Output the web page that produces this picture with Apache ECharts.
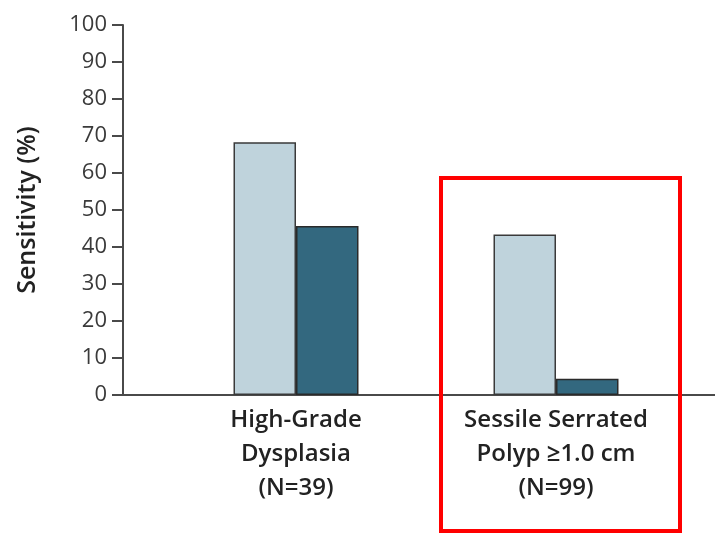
<!DOCTYPE html>
<html>
<head>
<meta charset="utf-8">
<script src="https://cdn.jsdelivr.net/npm/echarts@6/dist/echarts.min.js"></script>
<style>
  html, body { margin: 0; padding: 0; background: #fff; }
  #chart { width: 715px; height: 533px; }
</style>
</head>
<body>
<div id="chart"></div>
<script>
const categories = ['High-Grade\nDysplasia\n(N=39)', 'Sessile Serrated\nPolyp ≥1.0 cm\n(N=99)'];
const seriesA = [68.3, 43.4];
const seriesB = [45.7, 4.4];
const yTicks = [0, 10, 20, 30, 40, 50, 60, 70, 80, 90, 100];

const FONT = '"Open Sans", "Liberation Sans", sans-serif';
const AXIS_COLOR = '#4a4a4a';

const chart = echarts.init(document.getElementById('chart'), null, { renderer: 'canvas' });
chart.setOption({
  backgroundColor: '#ffffff',
  animation: false,
  grid: [
    { left: 123, right: 0, top: 25, bottom: 138 },
    { left: 166, width: 520, top: 25, bottom: 138 }
  ],
  xAxis: [
    {
      gridIndex: 0, type: 'value', min: 0, max: 1,
      axisLine: { show: true, lineStyle: { color: AXIS_COLOR, width: 2 } },
      axisTick: { show: false }, axisLabel: { show: false }, splitLine: { show: false }
    },
    {
      gridIndex: 1, type: 'category', data: categories,
      axisLine: { show: false }, axisTick: { show: false }, splitLine: { show: false },
      axisLabel: {
        color: '#222222', fontFamily: FONT, fontSize: 24, fontWeight: 600,
        lineHeight: 34, margin: 8, interval: 0, align: 'center'
      }
    }
  ],
  yAxis: [
    {
      gridIndex: 0, type: 'value', min: 0, max: 100, interval: 10,
      name: 'Sensitivity (%)', nameLocation: 'middle', nameGap: 83, nameRotate: 90,
      nameTextStyle: { color: '#222222', fontFamily: FONT, fontSize: 25, fontWeight: 600 },
      axisLine: { show: true, lineStyle: { color: AXIS_COLOR, width: 2 } },
      axisTick: { show: true, length: 11, lineStyle: { color: AXIS_COLOR, width: 2 } },
      axisLabel: {
        color: '#3a3a3a', fontFamily: FONT, fontSize: 22, margin: 16,
        formatter: v => yTicks.includes(v) ? String(v) : ''
      },
      splitLine: { show: false }
    },
    {
      gridIndex: 1, type: 'value', min: 0, max: 100, show: false
    }
  ],
  series: [
    {
      type: 'bar', xAxisIndex: 1, yAxisIndex: 1, data: seriesA,
      barWidth: 62.5, barGap: '0%',
      itemStyle: { color: '#bfd3dc', borderColor: '#3a3a3a', borderWidth: 1.5 }
    },
    {
      type: 'bar', xAxisIndex: 1, yAxisIndex: 1, data: seriesB,
      barWidth: 62.5, barGap: '0%',
      itemStyle: { color: '#33687f', borderColor: '#2a2a2a', borderWidth: 1.5 }
    }
  ],
  graphic: [
    {
      type: 'rect', z: 100,
      shape: { x: 441, y: 178, width: 239, height: 353 },
      style: { fill: 'none', stroke: '#ff0000', lineWidth: 4 }
    }
  ]
});
</script>
</body>
</html>
